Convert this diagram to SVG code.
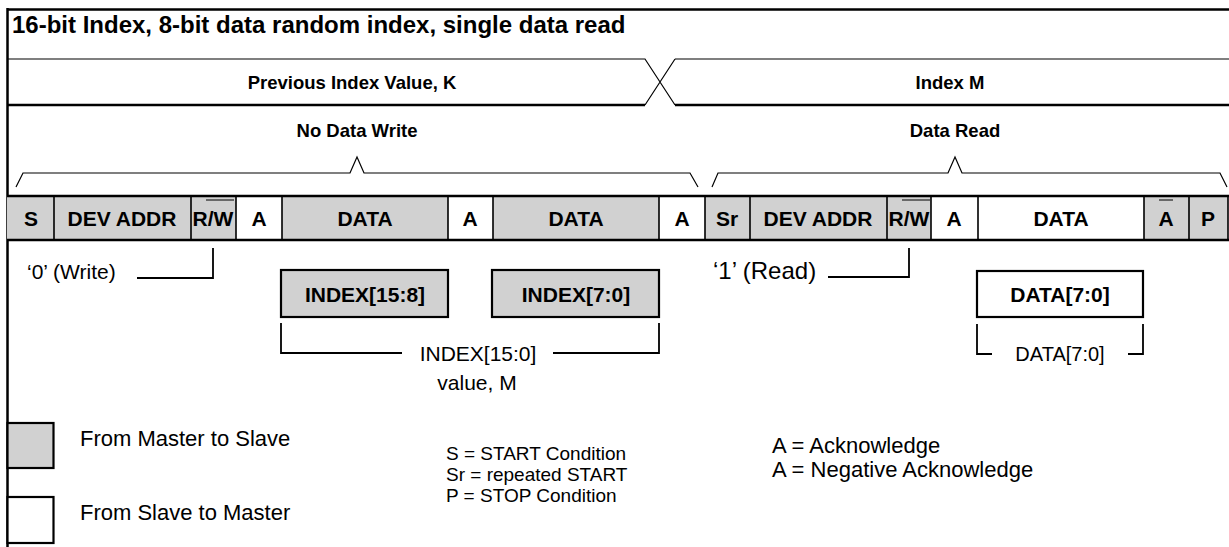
<svg xmlns="http://www.w3.org/2000/svg" width="1229" height="547" viewBox="0 0 1229 547">
<style>
  text{font-family:"Liberation Sans",Arial,Helvetica,sans-serif;fill:#000}
  .b{font-weight:bold}
  .t{font-size:24px}
  .h{font-size:18.5px;text-anchor:middle}
  .c{font-size:21px;text-anchor:middle}
  .r{font-size:21px}
  .rc{font-size:21px;text-anchor:middle}
  .lg{font-size:22px}
  .m{fill:#d1d1d1}
  .s{fill:#fff}
  .thin{stroke:#000;stroke-width:1.2;fill:none}
  .div{stroke:#000;stroke-width:1.6;fill:none}
  .thick{stroke:#000;stroke-width:2.5;fill:none}
  .box{stroke:#000;stroke-width:2.2}
  .con{stroke:#000;stroke-width:1.8;fill:none}
</style>

<g id="frame">
  <path class="thick" d="M7 9.5 H1229 M7.5 8 V547"/>
  <text class="b t" x="12" y="33">16-bit Index, 8-bit data random index, single data read</text>
</g>

<g id="index-band">
  <path class="thin" d="M7 59 H645 L675 105 M675 59 H1229 M645 105 L675 59"/>
  <path class="thick" d="M7 105 H645 M675 105 H1229"/>
  <text class="b h" x="352" y="89">Previous Index Value, K</text>
  <text class="b h" x="950" y="89">Index M</text>
</g>

<g id="phase-labels">
  <text class="b h" x="357" y="137">No Data Write</text>
  <text class="b h" x="955" y="137">Data Read</text>
</g>

<g id="braces">
  <path class="thin" d="M16 187 L23 173 H350 L357 157 L364 173 H690 L698 187"/>
  <path class="thin" d="M712 187 L718 173 H948 L955 157 L962 173 H1220 L1227 187"/>
</g>

<g id="bit-row">
  <rect class="m" x="7" y="196" width="229" height="44"/>
  <rect class="s" x="236" y="196" width="46" height="44"/>
  <rect class="m" x="282" y="196" width="166" height="44"/>
  <rect class="s" x="448" y="196" width="45" height="44"/>
  <rect class="m" x="493" y="196" width="166" height="44"/>
  <rect class="s" x="659" y="196" width="46" height="44"/>
  <rect class="m" x="705" y="196" width="226" height="44"/>
  <rect class="s" x="931" y="196" width="213" height="44"/>
  <rect class="m" x="1144" y="196" width="84" height="44"/>
  <path class="thick" d="M7 196 H1229 M7 240 H1229"/>
  <path class="div" d="M54 196 V240 M191 196 V240 M236 196 V240 M282 196 V240 M448 196 V240 M493 196 V240 M659 196 V240 M705 196 V240 M750 196 V240 M887 196 V240 M931 196 V240 M978 196 V240 M1144 196 V240 M1189 196 V240 M1228 196 V240"/>
  <path class="thin" stroke-width="1.4" d="M206 200 H234 M902 200 H930 M1159 200 H1173"/>
  <g class="b">
    <text class="c" x="31" y="226">S</text>
    <text class="c" x="122" y="226">DEV ADDR</text>
    <text class="c" x="213" y="226">R/W</text>
    <text class="c" x="259" y="226">A</text>
    <text class="c" x="365" y="226">DATA</text>
    <text class="c" x="470" y="226">A</text>
    <text class="c" x="576" y="226">DATA</text>
    <text class="c" x="682" y="226">A</text>
    <text class="c" x="727" y="226">Sr</text>
    <text class="c" x="818" y="226">DEV ADDR</text>
    <text class="c" x="909" y="226">R/W</text>
    <text class="c" x="954" y="226">A</text>
    <text class="c" x="1061" y="226">DATA</text>
    <text class="c" x="1166" y="226">A</text>
    <text class="c" x="1208" y="226">P</text>
  </g>
</g>

<g id="connectors">
  <path class="con" d="M137 278 H213 V248"/>
  <path class="con" d="M828 277 H909 V248"/>
  <path class="con" d="M281 323 V353 H402 M553 353 H659 V323"/>
  <path class="con" d="M977 324 V354 H992 M1128 354 H1143 V324"/>
</g>

<g id="rw-notes">
  <text class="r" x="27" y="279">‘0’ (Write)</text>
  <text class="r" x="713" y="279" style="font-size:24px">‘1’ (Read)</text>
</g>

<g id="index-hi">
  <rect class="m box" x="281" y="270" width="167" height="47"/>
  <text class="b c" x="365" y="302">INDEX[15:8]</text>
</g>
<g id="index-lo">
  <rect class="m box" x="492" y="270" width="167" height="47"/>
  <text class="b c" x="576" y="302">INDEX[7:0]</text>
</g>
<g id="index-value">
  <text class="rc" x="478" y="361">INDEX[15:0]</text>
  <text class="rc" x="477" y="390">value, M</text>
</g>

<g id="data-read">
  <rect class="s box" x="977" y="271" width="166" height="46"/>
  <text class="b c" x="1060" y="302">DATA[7:0]</text>
  <text class="rc" x="1060" y="361" style="font-size:20px">DATA[7:0]</text>
</g>

<g id="legend">
  <rect class="m box" x="7.5" y="423" width="46" height="45"/>
  <rect class="s box" x="7.5" y="497" width="46" height="46"/>
  <text class="lg" x="80" y="446">From Master to Slave</text>
  <text class="lg" x="80" y="520">From Slave to Master</text>
  <text x="446" y="460" style="font-size:19px">S = START Condition<tspan x="446" dy="21">Sr = repeated START</tspan><tspan x="446" dy="21">P = STOP Condition</tspan></text>
  <text class="lg" x="772" y="453">A = Acknowledge<tspan x="772" dy="24">A = Negative Acknowledge</tspan></text>
</g>
</svg>
